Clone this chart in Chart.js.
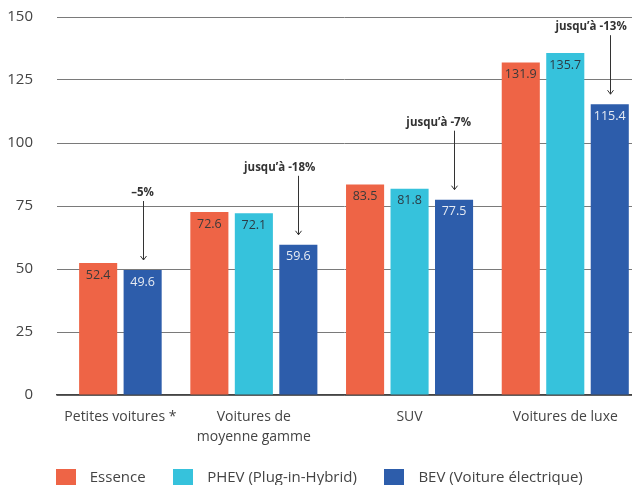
<!DOCTYPE html>
<html>
<head>
<meta charset="utf-8">
<script src="https://cdn.jsdelivr.net/npm/chart.js@4.4.0/dist/chart.umd.min.js"></script>
<style>
  html, body { margin: 0; padding: 0; background: #fff; overflow: hidden; }
  canvas { display: block; }
</style>
</head>
<body>
<canvas id="c" width="632" height="495"></canvas>
<script>
// Prix moyen par segment et motorisation
const categories = ['Petites voitures *', ['Voitures de', 'moyenne gamme'], 'SUV', 'Voitures de luxe'];
const seriesNames = ['Essence', 'PHEV (Plug-in-Hybrid)', 'BEV (Voiture électrique)'];
const essence = [52.4, 72.6, 83.5, 131.9];
const phev = [null, 72.1, 81.8, 135.7];
const bev = [49.6, 59.6, 77.5, 115.4];
const bevNotes = ['–5%', 'jusqu’à -18%', 'jusqu’à -7%', 'jusqu’à -13%'];
const yTicks = [0, 25, 50, 75, 100, 125, 150];

const seriesValues = [essence, phev, bev];
const barColors = ['#EE6446', '#36C2DC', '#2D5DAB'];
const valueColors = ['#3a3a3a', '#2c3a44', '#e6ebf3'];
const FONT = '"Open Sans", "Noto Sans", sans-serif';

// Slot layout: every bar takes two units, groups are separated by one unit,
// and a missing series leaves no empty slot inside its group.
const groupCenters = [];
const slotPositions = seriesValues.map(() => []);
let pos = 1;
categories.forEach((_, g) => {
  const start = pos;
  seriesValues.forEach((vals, s) => {
    if (vals[g] === null) { slotPositions[s].push(null); return; }
    slotPositions[s].push(pos + 1);
    pos += 2;
  });
  groupCenters.push((start + pos) / 2);
  pos += 1;
});
const lastSlot = pos - 1;

const datasets = seriesValues.map((vals, s) => ({
  label: seriesNames[s],
  data: vals.map((v, g) => (v === null ? null : { x: slotPositions[s][g], y: v })).filter(p => p !== null),
  backgroundColor: barColors[s],
  borderWidth: 0,
  grouped: false,
  categoryPercentage: 1,
  barPercentage: 0.856
}));

// Legend swatches drawn as small images so the text sits further from the box
const swatches = barColors.map(c => {
  const cv = document.createElement('canvas');
  cv.width = 20; cv.height = 18;
  const g = cv.getContext('2d');
  g.fillStyle = c;
  g.fillRect(0, 0, 20, 18);
  return cv;
});

// Value labels inside the bars and the BEV notes with arrows
const barText = {
  id: 'barText',
  afterDatasetsDraw(chart) {
    const ctx = chart.ctx;
    ctx.save();
    ctx.textAlign = 'center';
    ctx.textBaseline = 'middle';
    ctx.font = '12.5px ' + FONT;
    chart.data.datasets.forEach((ds, s) => {
      chart.getDatasetMeta(s).data.forEach((bar, i) => {
        ctx.fillStyle = valueColors[s];
        ctx.fillText(ds.data[i].y.toFixed(1), bar.x, bar.y + 12);
      });
    });

    const bevMeta = chart.getDatasetMeta(2);
    ctx.font = 'bold 11.5px ' + FONT;
    ctx.strokeStyle = '#333';
    ctx.fillStyle = '#333';
    ctx.lineWidth = 1;
    bevMeta.data.forEach((bar, i) => {
      const note = bevNotes[i];
      const w = ctx.measureText(note).width;
      const cx = Math.min(bar.x, bar.x + 17 - w / 2);
      const ty = bar.y - 77;
      ctx.fillText(note, cx, ty);
      const x = Math.round(bar.x) + 0.5;
      const y0 = ty + 8;
      const y1 = bar.y - 10;
      ctx.beginPath();
      ctx.moveTo(x, y0);
      ctx.lineTo(x, y1);
      ctx.moveTo(x - 3, y1 - 4);
      ctx.lineTo(x, y1);
      ctx.lineTo(x + 3, y1 - 4);
      ctx.stroke();
    });
    ctx.restore();
  }
};

new Chart(document.getElementById('c'), {
  type: 'bar',
  data: { datasets },
  plugins: [barText],
  options: {
    responsive: false,
    animation: false,
    layout: { padding: { left: 0, right: 0, top: 17, bottom: 0 } },
    scales: {
      x: {
        type: 'linear',
        offset: false,
        min: 0.15,
        max: lastSlot,
        afterBuildTicks: (scale) => { scale.ticks = groupCenters.map(v => ({ value: v })); },
        afterFit: (scale) => {
          scale.height = 54;
          scale.paddingLeft = 0;
          scale.paddingRight = 0;
        },
        ticks: {
          autoSkip: false,
          maxRotation: 0,
          padding: 12,
          color: '#444',
          font: { family: FONT, size: 14, lineHeight: 1.43 },
          callback: (value) => categories[groupCenters.indexOf(value)]
        },
        grid: { display: false, drawTicks: false, offset: false },
        border: { display: true, color: '#444', width: 1.5 }
      },
      y: {
        min: 0,
        max: 150,
        afterBuildTicks: (scale) => { scale.ticks = yTicks.map(v => ({ value: v })); },
        afterFit: (scale) => {
          scale.width = 57;
          scale.paddingTop = 0;
          scale.paddingBottom = 0;
        },
        ticks: {
          padding: 24,
          color: '#444',
          font: { family: FONT, size: 15 }
        },
        grid: { color: '#7a7a7a', drawTicks: false, lineWidth: 1 },
        border: { display: false }
      }
    },
    plugins: {
      legend: {
        position: 'bottom',
        labels: {
          usePointStyle: true,
          pointStyleWidth: 33,
          padding: 21,
          color: '#444',
          font: { family: FONT, size: 15 },
          generateLabels(chart) {
            const items = Chart.defaults.plugins.legend.labels.generateLabels(chart);
            items.forEach((it, i) => { it.pointStyle = swatches[i]; });
            return items;
          }
        }
      },
      tooltip: { enabled: false }
    }
  }
});
</script>
</body>
</html>
